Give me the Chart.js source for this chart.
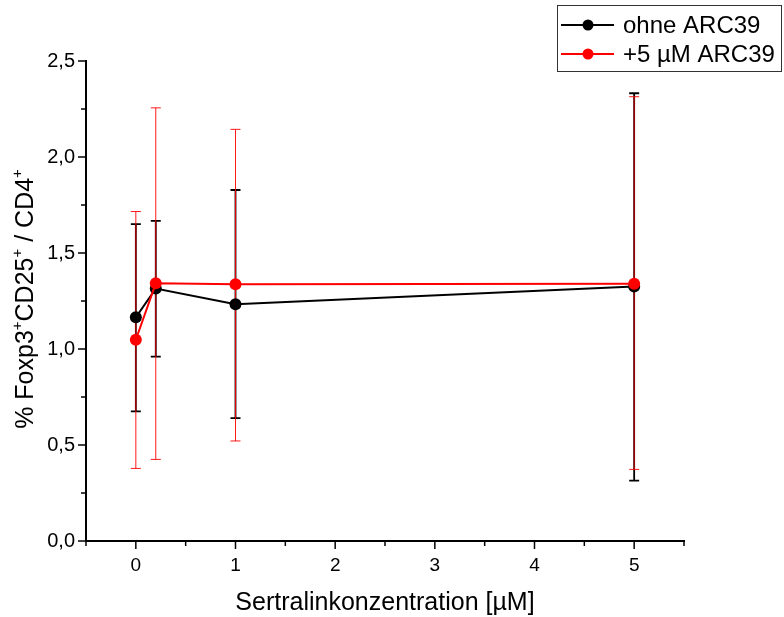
<!DOCTYPE html>
<html>
<head>
<meta charset="utf-8">
<script src="https://cdn.jsdelivr.net/npm/chart.js@4"></script>
<style>
  html, body { margin: 0; padding: 0; background: #fff; }
  #wrap { width: 784px; height: 617px; }
</style>
</head>
<body>
<div id="wrap"><canvas id="foxChart" width="784" height="617"></canvas></div>
<script>
// Sertraline concentrations (µM)
const concentrations = [0, 0.2, 1, 5];

// ohne ARC39: mean and error bar ends
const ohneMean = [1.165, 1.315, 1.233, 1.325];
const ohneLow  = [0.675, 0.960, 0.640, 0.314];
const ohneHigh = [1.650, 1.667, 1.828, 2.332];

// +5 µM ARC39: mean and error bar ends
const arcMean = [1.048, 1.342, 1.337, 1.340];
const arcLow  = [0.378, 0.425, 0.521, 0.373];
const arcHigh = [1.716, 2.256, 2.144, 2.314];

const xTickLabels = [0, 1, 2, 3, 4, 5];
const yTickLabels = [0, 0.5, 1, 1.5, 2, 2.5];

const FONT = "'Liberation Sans', Arial, sans-serif";

function toPoints(xs, ys) {
  return xs.map((x, i) => ({ x: x, y: ys[i] }));
}

// Vertical error bars with caps, drawn below lines and markers
const errorBars = {
  id: 'errorBars',
  beforeDatasetsDraw(chart) {
    const ctx = chart.ctx;
    const xs = chart.scales.x, ys = chart.scales.y;
    const sets = [
      { low: ohneLow, high: ohneHigh, color: '#000', width: 1.8, cap: 5 },
      { low: arcLow, high: arcHigh, color: 'rgba(255,0,0,0.9)', width: 1, cap: 5 }
    ];
    ctx.save();
    sets.forEach(s => {
      ctx.strokeStyle = s.color;
      ctx.lineWidth = s.width;
      concentrations.forEach((c, i) => {
        const px = xs.getPixelForValue(c);
        const y1 = ys.getPixelForValue(s.low[i]);
        const y2 = ys.getPixelForValue(s.high[i]);
        ctx.beginPath();
        ctx.moveTo(px, y1); ctx.lineTo(px, y2);
        ctx.moveTo(px - s.cap, y1); ctx.lineTo(px + s.cap, y1);
        ctx.moveTo(px - s.cap, y2); ctx.lineTo(px + s.cap, y2);
        ctx.stroke();
      });
    });
    ctx.restore();
  }
};

// Outward tick marks: long at labelled values, short in between
const tickMarks = {
  id: 'tickMarks',
  afterDraw(chart) {
    const ctx = chart.ctx;
    const xs = chart.scales.x, ys = chart.scales.y;
    const area = chart.chartArea;
    ctx.save();
    ctx.strokeStyle = '#000';
    ctx.lineWidth = 1.5;
    xs.ticks.forEach(t => {
      const px = xs.getPixelForValue(t.value);
      const len = xTickLabels.includes(t.value) ? 8 : 5;
      ctx.beginPath();
      ctx.moveTo(px, area.bottom);
      ctx.lineTo(px, area.bottom + len);
      ctx.stroke();
    });
    ys.ticks.forEach(t => {
      const py = ys.getPixelForValue(t.value);
      const len = yTickLabels.includes(t.value) ? 8 : 5;
      ctx.beginPath();
      ctx.moveTo(area.left, py);
      ctx.lineTo(area.left - len, py);
      ctx.stroke();
    });
    ctx.restore();
  }
};

// Rotated y-axis title with superscript plus signs
const yTitle = {
  id: 'yTitle',
  afterDraw(chart) {
    const ctx = chart.ctx;
    const parts = [
      ['% Foxp3', false], ['+', true], ['CD25', false], ['+', true],
      [' / CD4', false], ['+', true]
    ];
    const big = '25px ' + FONT, small = '15px ' + FONT;
    ctx.save();
    let total = 0;
    parts.forEach(p => { ctx.font = p[1] ? small : big; total += ctx.measureText(p[0]).width; });
    ctx.translate(24, 299);
    ctx.rotate(-Math.PI / 2);
    ctx.fillStyle = '#000';
    ctx.textBaseline = 'alphabetic';
    let x = -total / 2;
    parts.forEach(p => {
      ctx.font = p[1] ? small : big;
      ctx.fillText(p[0], x, p[1] ? -2 : 9);
      x += ctx.measureText(p[0]).width;
    });
    ctx.restore();
  }
};

// Boxed legend in the top right corner
const boxLegend = {
  id: 'boxLegend',
  afterDraw(chart) {
    const ctx = chart.ctx;
    const rows = [
      { label: 'ohne ARC39', color: '#000', y: 25 },
      { label: '+5 µM ARC39', color: '#ff0000', y: 54 }
    ];
    ctx.save();
    ctx.strokeStyle = '#333';
    ctx.lineWidth = 1;
    ctx.strokeRect(557.5, 5.5, 224, 66);
    rows.forEach(r => {
      ctx.strokeStyle = r.color;
      ctx.fillStyle = r.color;
      ctx.lineWidth = 2;
      ctx.beginPath();
      ctx.moveTo(561, r.y); ctx.lineTo(614, r.y);
      ctx.stroke();
      ctx.beginPath();
      ctx.arc(588, r.y, 5.5, 0, Math.PI * 2);
      ctx.fill();
      ctx.fillStyle = '#000';
      ctx.font = '24px ' + FONT;
      ctx.textBaseline = 'middle';
      ctx.fillText(r.label, 623, r.y + 1);
    });
    ctx.restore();
  }
};

new Chart(document.getElementById('foxChart').getContext('2d'), {
  type: 'line',
  data: {
    datasets: [
      {
        label: 'ohne ARC39',
        data: toPoints(concentrations, ohneMean),
        borderColor: '#000',
        backgroundColor: '#000',
        borderWidth: 2,
        pointRadius: 6,
        pointBorderWidth: 0,
        order: 2
      },
      {
        label: '+5 µM ARC39',
        data: toPoints(concentrations, arcMean),
        borderColor: '#ff0000',
        backgroundColor: '#ff0000',
        borderWidth: 2,
        pointRadius: 6,
        pointBorderWidth: 0,
        order: 1
      }
    ]
  },
  options: {
    responsive: false,
    animation: false,
    layout: { padding: { left: 0, right: 100, top: 61, bottom: 0 } },
    plugins: {
      legend: { display: false },
      tooltip: { enabled: false }
    },
    scales: {
      x: {
        type: 'linear',
        min: -0.5,
        max: 5.5,
        afterFit: s => { s.height = 76; },
        grid: { display: true, drawOnChartArea: false, drawTicks: false },
        border: { display: true, color: '#000', width: 2 },
        ticks: {
          stepSize: 0.5,
          autoSkip: false,
          maxRotation: 0,
          padding: 13,
          color: '#000',
          font: { family: FONT, size: 19 },
          callback: v => xTickLabels.includes(v) ? String(v) : ''
        },
        title: {
          display: true,
          text: 'Sertralinkonzentration [µM]',
          color: '#000',
          font: { family: FONT, size: 25, lineHeight: 1 },
          padding: { top: 0, bottom: 1 }
        }
      },
      y: {
        min: 0,
        max: 2.5,
        afterFit: s => { s.width = 86; },
        grid: { display: true, drawOnChartArea: false, drawTicks: false },
        border: { display: true, color: '#000', width: 2 },
        ticks: {
          stepSize: 0.25,
          autoSkip: false,
          padding: 11,
          color: '#000',
          font: { family: FONT, size: 20 },
          callback: v => yTickLabels.includes(v) ? v.toFixed(1).replace('.', ',') : ''
        }
      }
    }
  },
  plugins: [errorBars, tickMarks, yTitle, boxLegend]
});
</script>
</body>
</html>
